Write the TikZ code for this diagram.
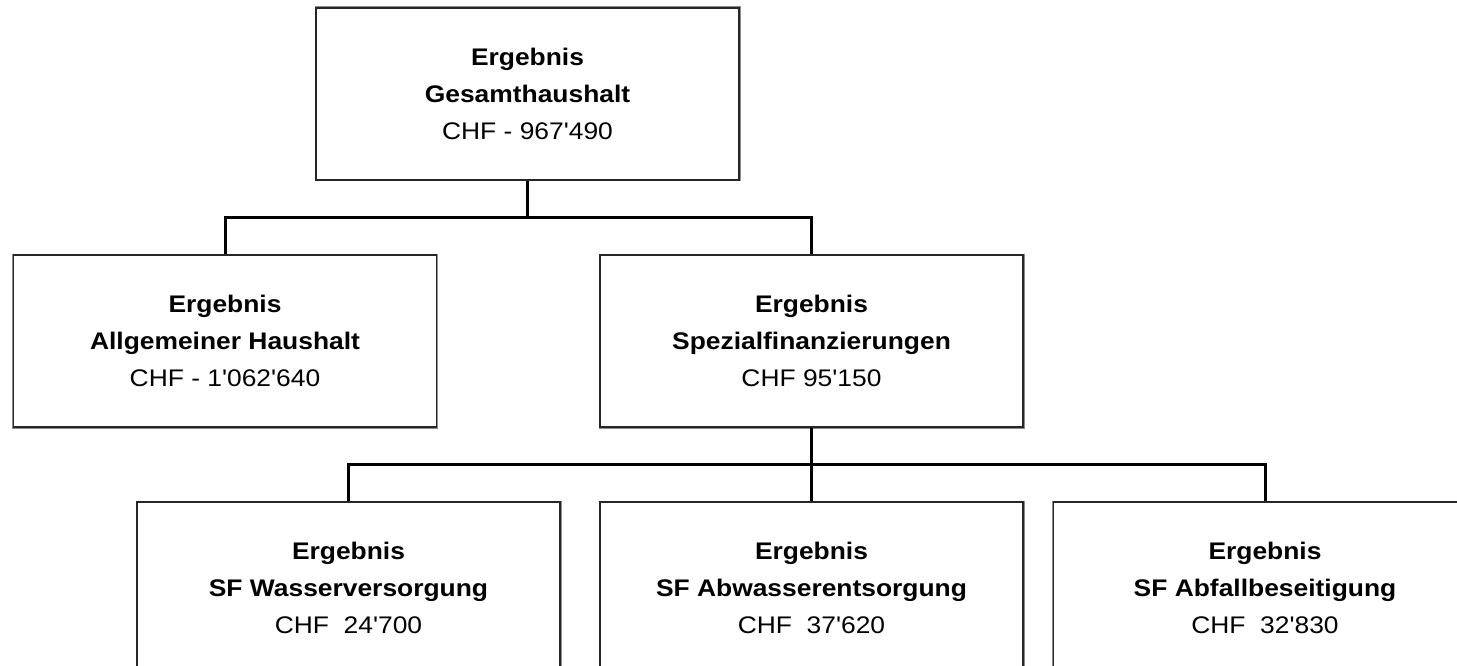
\documentclass[tikz,border=0pt]{standalone}
\usepackage{fontspec}
\newfontfamily\arial{Liberation Sans}[FakeStretch=1.1]
\begin{document}
\begin{tikzpicture}[x=1pt,y=-1pt,
  box/.style={rectangle, draw=black!85, line width=1.2pt,
    preaction={draw=black!45, line width=3pt},
    fill=white, minimum width=423pt, minimum height=172pt,
    inner sep=0pt, align=center,
    font=\arial\fontsize{24}{37}\selectfont},
  conn/.style={draw=black, line width=3pt}]
\useasboundingbox (0,0) rectangle (1457,666);
\clip (0,0) rectangle (1457,666);
\node[box] (top) at (527.5,94) {\textbf{Ergebnis}\\\textbf{Gesamthaushalt}\\CHF - 967'490};
\node[box] (ah) at (225,341) {\textbf{Ergebnis}\\\textbf{Allgemeiner Haushalt}\\CHF - 1'062'640};
\node[box] (sf) at (811.5,341) {\textbf{Ergebnis}\\\textbf{Spezialfinanzierungen}\\CHF 95'150};
\node[box] (wv) at (348.5,588) {\textbf{Ergebnis}\\\textbf{SF Wasserversorgung}\\CHF\ \ 24'700};
\node[box] (ae) at (811.5,588) {\textbf{Ergebnis}\\\textbf{SF Abwasserentsorgung}\\CHF\ \ 37'620};
\node[box] (ab) at (1265,588) {\textbf{Ergebnis}\\\textbf{SF Abfallbeseitigung}\\CHF\ \ 32'830};
\coordinate (j1) at (527.5,217);
\coordinate (j2) at (811.5,464);
\draw[conn] (top.south) -- (j1);
\draw[conn] (ah.north) |- (j1) -| (sf.north);
\draw[conn] (sf.south) -- (j2) -- (ae.north);
\draw[conn] (wv.north) |- (j2) -| (ab.north);
\end{tikzpicture}
\end{document}
